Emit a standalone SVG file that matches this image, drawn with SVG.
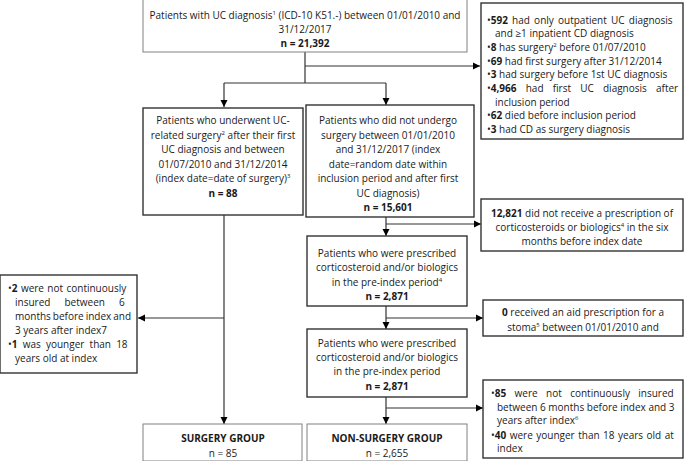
<svg xmlns="http://www.w3.org/2000/svg" width="685" height="461" viewBox="0 0 685 461">
<defs>
<marker id="ah" markerUnits="userSpaceOnUse" markerWidth="8" markerHeight="8" refX="7" refY="4" orient="auto">
<path d="M0,0.5 L7,4 L0,7.5 Z" fill="#000"/>
</marker>
<style>
text{font-family:"Open Sans","Noto Sans","DejaVu Sans",sans-serif;font-size:10px;fill:#1a1a1a}
.c{text-anchor:middle}
.b{font-weight:bold}
.sup{font-size:6px}
.lt{fill:#fff;stroke:#808080;stroke-width:1}
.dk{fill:#fff;stroke:#333;stroke-width:1.4}
.ln{fill:none;stroke:#333;stroke-width:1.2}
.arr{fill:none;stroke:#333;stroke-width:1.2;marker-end:url(#ah)}
</style>
</defs>
<rect width="685" height="461" fill="#fff"/>

<g id="connectors">
<line class="ln" x1="305" y1="52" x2="305" y2="83"/>
<line class="arr" x1="305" y1="66" x2="480" y2="66"/>
<line class="ln" x1="224" y1="83" x2="386" y2="83"/>
<line class="arr" x1="224" y1="83" x2="224" y2="107"/>
<line class="arr" x1="386" y1="83" x2="386" y2="105"/>
<line class="arr" x1="224" y1="215" x2="224" y2="424"/>
<line class="arr" x1="224" y1="318" x2="138" y2="318"/>
<line class="arr" x1="386" y1="217" x2="386" y2="236"/>
<line class="arr" x1="386" y1="224" x2="481" y2="224"/>
<line class="arr" x1="386" y1="306" x2="386" y2="329"/>
<line class="arr" x1="386" y1="318" x2="483" y2="318"/>
<line class="arr" x1="386" y1="397" x2="386" y2="424"/>
<line class="arr" x1="386" y1="408" x2="483" y2="408"/>
</g>

<g id="n-all">
<rect class="lt" x="143" y="-1" width="324" height="53"/>
<text class="c" x="305" y="19">Patients with UC diagnosis<tspan class="sup" dy="-4">1</tspan><tspan dy="4"> (ICD-10 K51.-) between 01/01/2010 and</tspan></text>
<text class="c" x="305" y="33">31/12/2017</text>
<text class="c b" x="305" y="47">n = 21,392</text>
</g>

<g id="excl-1">
<rect class="dk" x="481" y="3" width="202" height="136"/>
<text x="487" y="23.5" word-spacing="1.6">•<tspan class="b">592</tspan> had only outpatient UC diagnosis</text>
<text x="495" y="37">and ≥1 inpatient CD diagnosis</text>
<text x="487" y="51">•<tspan class="b">8</tspan> has surgery<tspan class="sup" dy="-4">2</tspan><tspan dy="4"> before 01/07/2010</tspan></text>
<text x="487" y="64.5">•<tspan class="b">69</tspan> had first surgery after 31/12/2014</text>
<text x="487" y="78">•<tspan class="b">3</tspan> had surgery before 1st UC diagnosis</text>
<text x="487" y="92" word-spacing="6.6">•<tspan class="b">4,966</tspan> had first UC diagnosis after</text>
<text x="495" y="105.5">inclusion period</text>
<text x="487" y="119">•<tspan class="b">62</tspan> died before inclusion period</text>
<text x="487" y="133">•<tspan class="b">3</tspan> had CD as surgery diagnosis</text>
</g>

<g id="n-surgery">
<rect class="dk" x="143" y="108" width="160" height="107"/>
<text class="c" x="223" y="124">Patients who underwent UC-</text>
<text class="c" x="223" y="139">related surgery<tspan class="sup" dy="-4">2</tspan><tspan dy="4"> after their first</tspan></text>
<text class="c" x="223" y="153">UC diagnosis and between</text>
<text class="c" x="223" y="168">01/07/2010 and 31/12/2014</text>
<text class="c" x="223" y="182">(index date=date of surgery)<tspan class="sup" dy="-4">3</tspan></text>
<text class="c b" x="223" y="197">n = 88</text>
</g>

<g id="n-nosurgery">
<rect class="dk" x="306" y="105" width="168" height="112"/>
<text class="c" x="388" y="124">Patients who did not undergo</text>
<text class="c" x="388" y="139">surgery between 01/01/2010</text>
<text class="c" x="388" y="153">and 31/12/2017 (index</text>
<text class="c" x="388" y="168">date=random date within</text>
<text class="c" x="388" y="182">inclusion period and after first</text>
<text class="c" x="388" y="197">UC diagnosis)</text>
<text class="c b" x="388" y="211">n = 15,601</text>
</g>

<g id="excl-2">
<rect class="dk" x="481" y="199" width="202" height="52"/>
<text class="c" x="582" y="217"><tspan class="b">12,821</tspan> did not receive a prescription of</text>
<text class="c" x="582" y="231">corticosteroids or biologics<tspan class="sup" dy="-4">4</tspan><tspan dy="4"> in the six</tspan></text>
<text class="c" x="582" y="245">months before index date</text>
</g>

<g id="n-steroid-1">
<rect class="dk" x="307" y="236" width="160" height="70"/>
<text class="c" x="387" y="257">Patients who were prescribed</text>
<text class="c" x="387" y="271">corticosteroid and/or biologics</text>
<text class="c" x="387" y="286">in the pre-index period<tspan class="sup" dy="-4">4</tspan></text>
<text class="c b" x="387" y="300">n = 2,871</text>
</g>

<g id="excl-surgery">
<rect class="dk" x="0" y="275" width="137" height="98"/>
<text x="8" y="292" word-spacing="0.8">•<tspan class="b">2</tspan> were not continuously</text>
<text x="15" y="306" word-spacing="11.5">insured between 6</text>
<text x="15" y="320" word-spacing="-0.6">months before index and</text>
<text x="15" y="334">3 years after index7</text>
<text x="8" y="348" word-spacing="2.6">•<tspan class="b">1</tspan> was younger than 18</text>
<text x="15" y="362">years old at index</text>
</g>

<g id="excl-3">
<rect class="dk" x="483" y="300" width="200" height="36"/>
<text class="c" x="583" y="316"><tspan class="b">0</tspan> received an aid prescription for a</text>
<text class="c" x="583" y="331">stoma<tspan class="sup" dy="-4">5</tspan><tspan dy="4"> between 01/01/2010 and</tspan></text>
</g>

<g id="n-steroid-2">
<rect class="dk" x="307" y="329" width="160" height="68"/>
<text class="c" x="387" y="347">Patients who were prescribed</text>
<text class="c" x="387" y="361">corticosteroid and/or biologics</text>
<text class="c" x="387" y="375">in the pre-index period</text>
<text class="c b" x="387" y="390">n = 2,871</text>
</g>

<g id="excl-4">
<rect class="dk" x="483" y="380" width="200" height="78"/>
<text x="491" y="397" word-spacing="5.8">•<tspan class="b">85</tspan> were not continuously insured</text>
<text x="497" y="411">between 6 months before index and 3</text>
<text x="497" y="424">years after index<tspan class="sup" dy="-4">6</tspan></text>
<text x="491" y="439" word-spacing="0.9">•<tspan class="b">40</tspan> were younger than 18 years old at</text>
<text x="497" y="452">index</text>
</g>

<g id="surgery-group">
<rect class="lt" x="143" y="424" width="159" height="37"/>
<text class="c b" x="223" y="442">SURGERY GROUP</text>
<text class="c" x="223" y="457">n = 85</text>
</g>

<g id="nonsurgery-group">
<rect class="lt" x="307" y="424" width="160" height="37"/>
<text class="c b" x="387" y="442">NON-SURGERY GROUP</text>
<text class="c" x="387" y="457">n = 2,655</text>
</g>
</svg>
